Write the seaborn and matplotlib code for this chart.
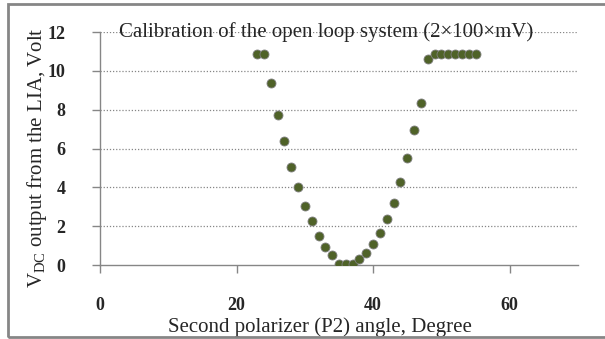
import matplotlib
matplotlib.use("Agg")
import matplotlib.pyplot as plt
import seaborn as sns
import pandas as pd
from matplotlib.patches import Rectangle

angles = list(range(23, 56))
vdc = [10.86, 10.86, 9.35, 7.75, 6.41, 5.05, 4.04, 3.06, 2.27, 1.49, 0.94, 0.50,
       0.04, 0.04, 0.04, 0.29, 0.62, 1.07, 1.67, 2.35, 3.21, 4.26, 5.50, 6.96,
       8.35, 10.60, 10.86, 10.86, 10.86, 10.86, 10.86, 10.86, 10.86]
x_ticks = [0, 20, 40, 60]
y_ticks = [0, 2, 4, 6, 8, 10, 12]
title = "Calibration of the open loop system (2\u00d7100\u00d7mV)"
xlabel = "Second polarizer (P2) angle, Degree"
ylabel = r"V$_{\mathrm{DC}}$ output from the LIA, Volt"

df = pd.DataFrame({"angle": angles, "vdc": vdc})

sns.set_style("white")
plt.rcParams["font.family"] = ["Liberation Serif", "DejaVu Serif"]
plt.rcParams["mathtext.fontset"] = "custom"
plt.rcParams["mathtext.rm"] = "Liberation Serif"
plt.rcParams["mathtext.it"] = "Liberation Serif:italic"

W, H = 605, 339
fig = plt.figure(figsize=(W / 100, H / 100), dpi=100)
ax = fig.add_axes([100 / W, 1 - 265 / H, (578 - 100) / W, (265 - 32) / H])

sns.scatterplot(data=df, x="angle", y="vdc", ax=ax, s=42, color="#4f6228",
                edgecolor="#7f7f7f", linewidth=0.6, zorder=3, legend=False)

ax.set_xlim(0, 70)
ax.set_ylim(0, 12)
ax.set_xticks(x_ticks)
ax.set_yticks(y_ticks)
ax.set_xticklabels([str(t) for t in x_ticks], fontsize=13, fontweight="bold")
ax.set_yticklabels([str(t) for t in y_ticks], fontsize=13, fontweight="bold")
ax.tick_params(axis="both", direction="out", length=6, width=1, color="#868686",
               bottom=True, left=True)
ax.tick_params(axis="x", pad=17)
ax.tick_params(axis="y", pad=19)

for y in y_ticks[1:]:
    ax.axhline(y, color="#868686", linestyle=(0, (1, 1.5)), linewidth=0.9, zorder=1)

for side in ["top", "right"]:
    ax.spines[side].set_visible(False)
for side in ["left", "bottom"]:
    ax.spines[side].set_color("#868686")
    ax.spines[side].set_linewidth(1)

ax.set_xlabel(xlabel, fontsize=15, labelpad=0)
ax.set_ylabel(ylabel, fontsize=15, labelpad=0)
ax.xaxis.label.set_va("center")
ax.yaxis.label.set_va("center")
ax.xaxis.set_label_coords((320 - 100) / (578 - 100), -(327 - 265) / (265 - 32))
ax.yaxis.set_label_coords(-(100 - 37) / (578 - 100), (265 - 158) / (265 - 32))

ax.text((326 - 100) / (578 - 100), 1.0, title, transform=ax.transAxes,
        ha="center", va="center", fontsize=15, zorder=4)

fig.add_artist(Rectangle((8 / W, 1 - 337 / H), (W + 10 - 8) / W, (337 - 4) / H,
                         transform=fig.transFigure, fill=False,
                         edgecolor="#868686", linewidth=2, clip_on=False))

fig.savefig("out.png", dpi=100)
